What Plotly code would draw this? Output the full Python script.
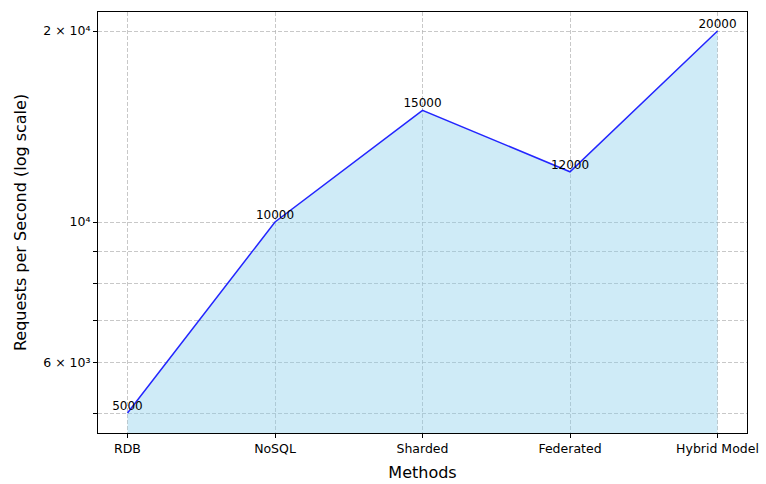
import plotly.graph_objects as go

methods = ["RDB", "NoSQL", "Sharded", "Federated", "Hybrid Model"]
requests = [5000, 10000, 15000, 12000, 20000]
y_tickvals = [5000, 6000, 7000, 8000, 9000, 10000, 20000]
y_ticktext = ["", "6 × 10³", "", "", "", "10⁴", "2 × 10⁴"]

x_idx = list(range(len(methods)))
y_floor = 4650

fig = go.Figure()
fig.add_trace(go.Scatter(
    x=x_idx, y=[y_floor] * len(x_idx), mode="lines",
    line=dict(width=0), hoverinfo="skip", showlegend=False))
fig.add_trace(go.Scatter(
    x=x_idx, y=requests, mode="lines+text",
    fill="tonexty", fillcolor="rgba(135,206,235,0.4)",
    line=dict(color="rgba(0,0,255,0.85)", width=1.5),
    text=[str(v) for v in requests], textposition="top center",
    textfont=dict(family="DejaVu Sans", size=12, color="black"),
    showlegend=False))

grid = dict(showgrid=True, gridcolor="rgba(176,176,176,0.7)", griddash="4px,2px", gridwidth=1,
            showline=True, linecolor="black", linewidth=1, mirror=True,
            ticks="outside", ticklen=4, tickcolor="black", zeroline=False,
            automargin=False, tickfont=dict(size=12.5))

fig.update_layout(
    width=766, height=484,
    margin=dict(l=98, r=19, t=12, b=51),
    paper_bgcolor="white", plot_bgcolor="white",
    font=dict(family="DejaVu Sans", size=12, color="black"),
)
fig.update_xaxes(
    range=[-0.2, 4.2], tickvals=x_idx, ticktext=methods,
    title=dict(text="Methods", font=dict(size=16), standoff=11), **grid)
fig.update_yaxes(
    type="log", range=[3.6675, 4.331],
    tickvals=y_tickvals, ticktext=y_ticktext,
    title=dict(text="Requests per Second (log scale)", font=dict(size=16), standoff=12), **grid)

fig.write_html("out.html", config={"displayModeBar": False})
with open("out.html", "r", encoding="utf-8") as f:
    html = f.read()
html = html.replace("<body>", '<body style="margin:0;padding:0">', 1)
with open("out.html", "w", encoding="utf-8") as f:
    f.write(html)
